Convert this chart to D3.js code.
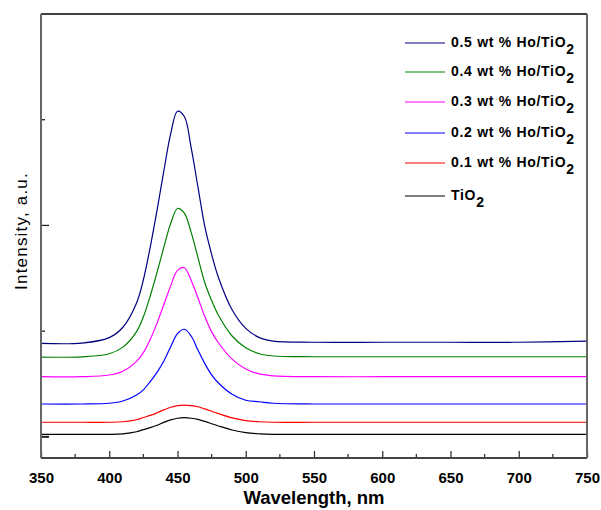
<!DOCTYPE html>
<html>
<head>
<meta charset="utf-8">
<script src="https://cdn.jsdelivr.net/npm/d3@7"></script>
<style>
  body { margin: 0; background: #fff; }
  svg { display: block; font-family: "Liberation Sans", Arial, sans-serif; }
</style>
</head>
<body>
<div id="chart"></div>
<script>
// wavelength grid (nm) shared by all spectra
const wavelengths = [350, 380, 400, 410, 420, 425, 430, 435, 440, 445, 450, 455, 460, 465, 470, 475, 480, 490, 500, 510, 520, 550, 600, 650, 700, 750];

// intensities (a.u., stacked with offsets as plotted)
const ho05 = [0.885, 0.887, 0.939, 1.037, 1.267, 1.486, 1.793, 2.143, 2.516, 2.866, 3.080, 3.030, 2.735, 2.362, 1.990, 1.727, 1.508, 1.202, 1.026, 0.939, 0.906, 0.895, 0.895, 0.895, 0.895, 0.905];
const ho04 = [0.755, 0.757, 0.786, 0.849, 0.996, 1.136, 1.332, 1.556, 1.794, 2.018, 2.160, 2.116, 1.934, 1.696, 1.458, 1.290, 1.150, 0.954, 0.842, 0.786, 0.765, 0.758, 0.758, 0.758, 0.758, 0.758];
const ho03 = [0.569, 0.569, 0.585, 0.621, 0.714, 0.797, 0.921, 1.076, 1.252, 1.428, 1.575, 1.600, 1.480, 1.314, 1.138, 0.993, 0.890, 0.735, 0.641, 0.595, 0.577, 0.569, 0.569, 0.569, 0.569, 0.569];
const ho02 = [0.311, 0.311, 0.318, 0.339, 0.396, 0.445, 0.523, 0.610, 0.717, 0.852, 0.976, 1.018, 0.954, 0.820, 0.693, 0.587, 0.509, 0.403, 0.346, 0.332, 0.318, 0.311, 0.311, 0.311, 0.311, 0.311];
const ho01 = [0.138, 0.138, 0.138, 0.143, 0.162, 0.183, 0.203, 0.228, 0.255, 0.280, 0.296, 0.301, 0.296, 0.285, 0.265, 0.242, 0.220, 0.180, 0.154, 0.143, 0.138, 0.138, 0.138, 0.138, 0.138, 0.138];
const tio2 = [0.024, 0.024, 0.024, 0.029, 0.048, 0.068, 0.087, 0.110, 0.137, 0.161, 0.176, 0.181, 0.176, 0.165, 0.146, 0.124, 0.103, 0.065, 0.040, 0.029, 0.024, 0.024, 0.024, 0.024, 0.024, 0.024];

const seriesNames = ["0.5 wt % Ho/TiO", "0.4 wt % Ho/TiO", "0.3 wt % Ho/TiO", "0.2 wt % Ho/TiO", "0.1 wt % Ho/TiO", "TiO"];
const seriesValues = [ho05, ho04, ho03, ho02, ho01, tio2];
const seriesColors = ["#000080", "#008000", "#ff00ff", "#0000ff", "#ff0000", "#000000"];

const xTicks = [350, 400, 450, 500, 550, 600, 650, 700, 750];
const xMinorTicks = [375, 425, 475, 525, 575, 625, 675, 725];
const yMajorTicks = [0, 2];
const yMinorTicks = [1, 3];

const width = 601, height = 510;
const margin = { top: 14, right: 14, bottom: 52, left: 41 };

const svg = d3.select("#chart").append("svg")
  .attr("width", width)
  .attr("height", height);

const x = d3.scaleLinear().domain([350, 750]).range([margin.left, width - margin.right]);
const y = d3.scaleLinear().domain([-0.2, 4]).range([height - margin.bottom, margin.top]);

const plotW = width - margin.left - margin.right;
const plotH = height - margin.top - margin.bottom;

// clip so lines stay in the frame
svg.append("clipPath").attr("id", "clip")
  .append("rect")
  .attr("x", margin.left).attr("y", margin.top)
  .attr("width", plotW).attr("height", plotH);

// spectra
const line = d3.line()
  .x((d, i) => x(wavelengths[i]))
  .y(d => y(d))
  .curve(d3.curveCatmullRom.alpha(0.5));

svg.append("g").attr("clip-path", "url(#clip)")
  .selectAll("path")
  .data(seriesValues)
  .enter()
  .append("path")
  .attr("fill", "none")
  .attr("stroke", (d, i) => seriesColors[i])
  .attr("stroke-width", 1.2)
  .attr("d", line);

// bottom axis: inward ticks
const xAxis = svg.append("g")
  .attr("transform", `translate(0,${height - margin.bottom})`)
  .call(d3.axisBottom(x).tickValues(xTicks).tickSizeInner(-7).tickSizeOuter(0).tickPadding(14));
xAxis.select(".domain").remove();
xAxis.selectAll(".tick line").attr("stroke", "#333").attr("stroke-width", 1.3);
xAxis.selectAll(".tick text")
  .attr("font-family", "Liberation Sans, Arial, sans-serif")
  .attr("font-size", 15)
  .attr("font-weight", "bold")
  .attr("fill", "#000");

svg.append("g")
  .attr("transform", `translate(0,${height - margin.bottom})`)
  .selectAll("line")
  .data(xMinorTicks)
  .enter()
  .append("line")
  .attr("x1", d => x(d)).attr("x2", d => x(d))
  .attr("y1", 0).attr("y2", -4)
  .attr("stroke", "#333").attr("stroke-width", 1.3);

// left axis: no labels, inward ticks
svg.append("g")
  .selectAll("line")
  .data(yMajorTicks.map(v => ({ v, len: 8 })).concat(yMinorTicks.map(v => ({ v, len: 4 }))))
  .enter()
  .append("line")
  .attr("x1", margin.left).attr("x2", d => margin.left + d.len)
  .attr("y1", d => y(d.v)).attr("y2", d => y(d.v))
  .attr("stroke", "#222").attr("stroke-width", (d) => d.v === 0 ? 2 : 1.3);

// frame
const x0 = margin.left, x1 = width - margin.right;
const y0 = margin.top, y1 = height - margin.bottom;
svg.append("line").attr("x1", x0).attr("x2", x1).attr("y1", y0).attr("y2", y0)
  .attr("stroke", "#000").attr("stroke-width", 1.5);
svg.append("line").attr("x1", x0).attr("x2", x1).attr("y1", y1).attr("y2", y1)
  .attr("stroke", "#444").attr("stroke-width", 2);
svg.append("line").attr("x1", x0).attr("x2", x0).attr("y1", y0).attr("y2", y1)
  .attr("stroke", "#666").attr("stroke-width", 2);
svg.append("line").attr("x1", x1).attr("x2", x1).attr("y1", y0).attr("y2", y1)
  .attr("stroke", "#666").attr("stroke-width", 2);

// axis titles
svg.append("text")
  .attr("x", (x0 + x1) / 2)
  .attr("y", 504)
  .attr("text-anchor", "middle")
  .attr("font-size", 18.5)
  .attr("font-weight", "bold")
  .text("Wavelength, nm");

svg.append("text")
  .attr("transform", `translate(27,${231}) rotate(-90)`)
  .attr("text-anchor", "middle")
  .attr("font-size", 17)
  .attr("letter-spacing", 1.2)
  .text("Intensity, a.u.");

// legend
const legend = svg.append("g");
const legendY = [43, 72, 102, 133, 163, 196];
seriesNames.forEach((name, i) => {
  const g = legend.append("g").attr("transform", `translate(0,${legendY[i]})`);
  g.append("line")
    .attr("x1", 405).attr("x2", 445)
    .attr("y1", 0).attr("y2", 0)
    .attr("stroke", seriesColors[i]).attr("stroke-width", 1.2);
  const t = g.append("text")
    .attr("x", 451).attr("y", 4)
    .attr("font-size", 14)
    .attr("font-weight", "bold")
    .attr("letter-spacing", 0.7);
  t.append("tspan").text(name);
  t.append("tspan").attr("dy", 7).attr("font-size", 14).text("2");
});
</script>
</body>
</html>
